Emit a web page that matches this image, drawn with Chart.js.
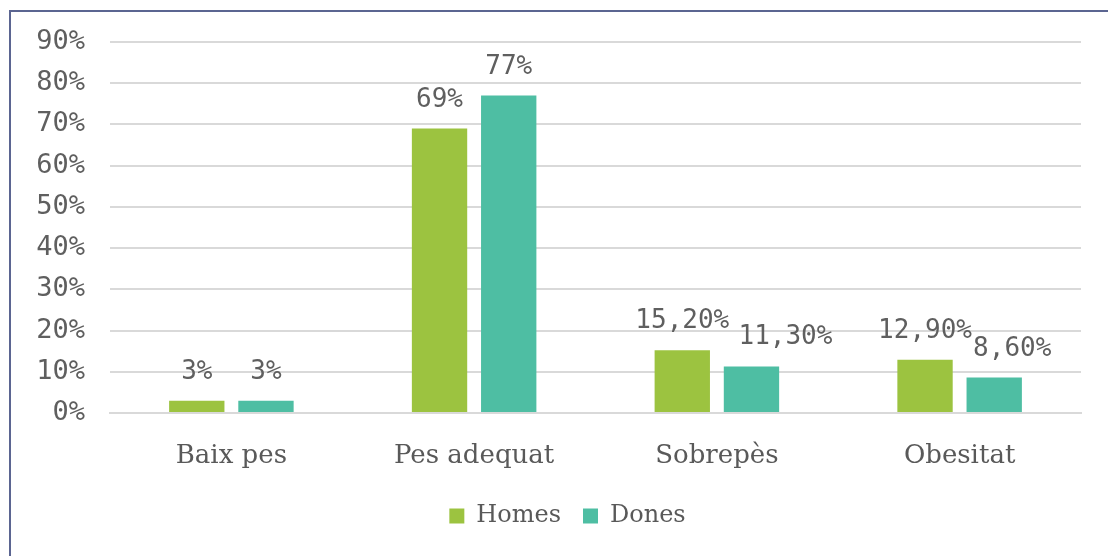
<!DOCTYPE html>
<html>
<head>
<meta charset="utf-8">
<script src="https://cdn.jsdelivr.net/npm/chart.js@4"></script>
<style>
  html, body { margin: 0; padding: 0; background: #fff; overflow: hidden; }
  canvas { display: block; }
</style>
</head>
<body>
<canvas id="myChart" width="1108" height="556"></canvas>
<script>
"use strict";

const categories = ['Baix pes', 'Pes adequat', 'Sobrepès', 'Obesitat'];
const homes = [3, 69, 15.2, 12.9];
const dones = [3, 77, 11.3, 8.6];
const yTicks = [0, 10, 20, 30, 40, 50, 60, 70, 80, 90];

// Excel nudged a couple of labels sideways so they don't collide
const labelShift = [[0, 0, 0, 0], [0, 0, 34, 18]];

const ctx = document.getElementById('myChart');

function fmt (v) {
    return Number.isInteger(v) ? v + '%' : v.toFixed(2).replace('.', ',') + '%';
}

const barLabels = {
    id: 'barLabels',
    afterLayout (chart) {
        // legend sits a bit right of centre in the original
        chart.legend.left += 27;
        chart.legend.right += 27;
        chart.legend.top -= 9;
        chart.legend.bottom -= 9;
    },
    beforeDraw (chart) {
        const c = chart.ctx;
        c.save();
        c.strokeStyle = '#5b6591';
        c.lineWidth = 2;
        c.beginPath();
        c.moveTo(10, 556);
        c.lineTo(10, 11);
        c.lineTo(1108, 11);
        c.stroke();
        c.restore();
    },
    afterDatasetsDraw (chart) {
        const c = chart.ctx;
        c.save();
        c.font = '26px "DejaVu Sans Mono"';
        c.fillStyle = '#5f5f5f';
        c.textAlign = 'center';
        c.textBaseline = 'alphabetic';
        chart.data.datasets.forEach((ds, i) => {
            chart.getDatasetMeta(i).data.forEach((bar, j) => {
                c.fillText(fmt(ds.data[j]), bar.x + labelShift[i][j], bar.y - 22);
            });
        });
        c.restore();
    }
};

new Chart(ctx, {
    type: 'bar',
    data: {
        labels: categories,
        datasets: [{
            label: 'Homes',
            data: homes,
            backgroundColor: '#9cc340',
            barPercentage: 0.8,
            categoryPercentage: 0.57
        }, {
            label: 'Dones',
            data: dones,
            backgroundColor: '#4ebea3',
            barPercentage: 0.8,
            categoryPercentage: 0.57
        }]
    },
    options: {
        responsive: false,
        animation: false,
        layout: { padding: { left: 0, top: 42, right: 27, bottom: 9 } },
        plugins: {
            tooltip: { enabled: false },
            legend: {
                position: 'bottom',
                labels: {
                    boxWidth: 15,
                    boxHeight: 15,
                    padding: 22,
                    color: '#595959',
                    font: { family: 'DejaVu Serif', size: 24 }
                }
            }
        },
        scales: {
            y: {
                min: 0,
                max: 90,
                afterBuildTicks: (axis) => { axis.ticks = yTicks.map(v => ({ value: v })); },
                afterFit: (axis) => { axis.width = 110; },
                border: { display: false },
                grid: { color: '#d9d9d9', lineWidth: 2, drawTicks: false },
                ticks: {
                    padding: 25,
                    color: '#5f5f5f',
                    font: { family: 'DejaVu Sans Mono', size: 27 },
                    callback: v => v + '%'
                }
            },
            x: {
                afterFit: (axis) => { axis.height = 78; },
                border: { color: '#d9d9d9', width: 2 },
                grid: { display: false },
                ticks: {
                    padding: 20,
                    color: '#595959',
                    font: { family: 'DejaVu Serif', size: 26 }
                }
            }
        }
    },
    plugins: [barLabels]
});
</script>
</body>
</html>
